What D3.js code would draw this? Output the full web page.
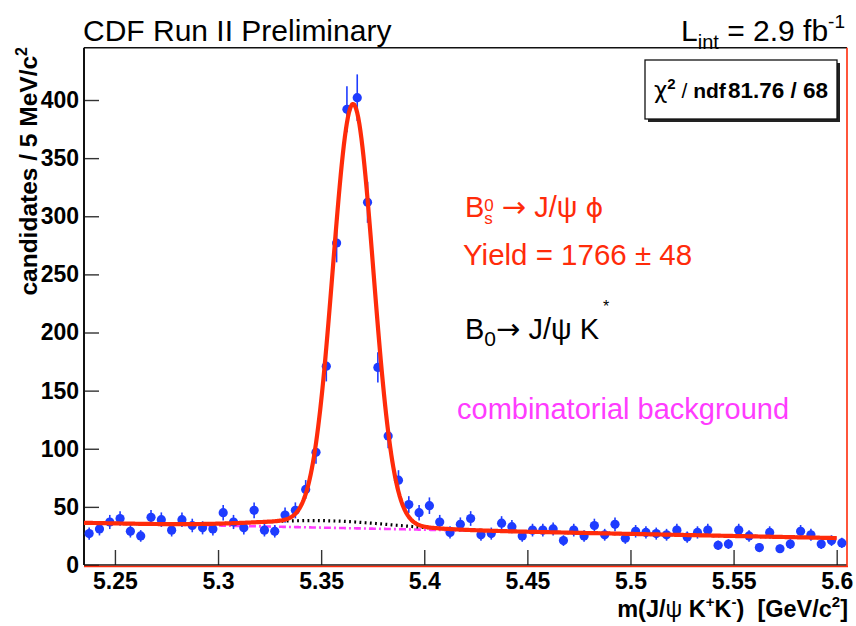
<!DOCTYPE html>
<html>
<head>
<meta charset="utf-8">
<script src="https://cdn.jsdelivr.net/npm/d3@7"></script>
<style>
  body { margin: 0; background: #fff; }
  svg { display: block; }
  text { font-family: "Liberation Sans", Arial, Helvetica, sans-serif; }
</style>
</head>
<body>
<svg id="chart" width="856" height="626"></svg>
<script>
// Histogram: 5 MeV/c^2 bins starting at 5.235 GeV/c^2
const binLow = 5.235;
const binWidth = 0.005;
const counts = [27,31,37,40,29,25,41,39,30,39,
                34,32,31,45,37,32,47,30,29,43,
                47,65,97,171,277,392,402,312,170,111,
                73,52,45,51,37,28,35,40,26,27,
                36,33,25,30,30,31,21,30,25,34,
                26,35,23,29,28,27,26,30,24,28,
                30,17,18,30,25,15,28,14,18,29,
                26,18,21,19];

const xMajorTicks = [5.25, 5.3, 5.35, 5.4, 5.45, 5.5, 5.55, 5.6];
const xTickLabels = ["5.25", "5.3", "5.35", "5.4", "5.45", "5.5", "5.55", "5.6"];
const yMajorTicks = [0, 50, 100, 150, 200, 250, 300, 350, 400];
const yTickLabels = ["0", "50", "100", "150", "200", "250", "300", "350", "400"];

// Fit results
const signalYield = 1766;
const signalYieldErr = 48;
const signalMean = 5.3655;
const signalSigma = 0.0098;
const combBackground = [36.3, -36];          // value at 5.235, slope per GeV/c^2
const reflectionShape = [6.0, 5.352, 0.032]; // B0 -> J/psi K* : amplitude, mean, width
const fitRange = [5.235, 5.6];
const chi2 = "81.76";
const ndf = "68";

const red = "#ff2b0a", blue = "#1e3cff", magenta = "#ff3cff";
const symbolFont = "'DejaVu Sans', sans-serif";

const svg = d3.select("#chart");
const W = 856, H = 626;
svg.append("rect").attr("width", W).attr("height", H).attr("fill", "#fff");

const x = d3.scaleLinear().domain([5.235, 5.605]).range([84, 847]);
const y = d3.scaleLinear().domain([0, 445]).range([565, 47.7]);

// fit model components
const comb = m => combBackground[0] + combBackground[1] * (m - binLow);
const refl = m => reflectionShape[0] * Math.exp(-0.5 * ((m - reflectionShape[1]) / reflectionShape[2]) ** 2);
const signal = m => signalYield * binWidth / (signalSigma * Math.sqrt(2 * Math.PI)) *
                    Math.exp(-0.5 * ((m - signalMean) / signalSigma) ** 2);
const grid = d3.range(fitRange[0], fitRange[1] + 1e-9, 0.0005);

const line = d3.line().x(d => x(d[0])).y(d => y(d[1]));

// axes (ticks pointing into the frame)
const gx = svg.append("g").attr("transform", `translate(0,${y(0)})`);
gx.call(d3.axisBottom(x).tickValues(d3.range(5.24, 5.6001, 0.01)).tickSize(-7).tickFormat(""));
gx.call(d3.axisBottom(x).tickValues(xMajorTicks).tickSize(-15).tickPadding(8)
          .tickFormat((d, i) => xTickLabels[i]));
gx.selectAll(".domain").remove();

const gy = svg.append("g").attr("transform", `translate(${x.range()[0]},0)`);
gy.call(d3.axisLeft(y).tickValues(d3.range(0, 441, 10)).tickSize(-8).tickFormat(""));
gy.call(d3.axisLeft(y).tickValues(yMajorTicks).tickSize(-15).tickPadding(5)
          .tickFormat((d, i) => yTickLabels[i]));
gy.selectAll(".domain").remove();

svg.selectAll(".tick line").attr("stroke", "#333").attr("stroke-width", 1.4);
svg.selectAll(".tick text").attr("fill", "#000").attr("font-size", 23).attr("font-weight", "bold")
   .attr("font-family", "'Liberation Sans', Arial, sans-serif");

// frame
const [fx0, fx1] = x.range();
const fy0 = y.range()[1], fy1 = y(0);
svg.append("line").attr("x1", fx0).attr("x2", fx1).attr("y1", fy0).attr("y2", fy0)
   .attr("stroke", "#111").attr("stroke-width", 1.6);
svg.append("line").attr("x1", fx0).attr("x2", fx0).attr("y1", fy0).attr("y2", fy1)
   .attr("stroke", "#111").attr("stroke-width", 2);
svg.append("line").attr("x1", fx0).attr("x2", fx1).attr("y1", fy1).attr("y2", fy1)
   .attr("stroke", "#111").attr("stroke-width", 1.6);
svg.append("line").attr("x1", fx0).attr("x2", fx1 + 1).attr("y1", fy1 + 1.5).attr("y2", fy1 + 1.5)
   .attr("stroke", red).attr("stroke-width", 1.4);
svg.append("line").attr("x1", fx1).attr("x2", fx1).attr("y1", fy0).attr("y2", fy1 + 2)
   .attr("stroke", red).attr("stroke-width", 1.6);

// background components
svg.append("path").datum(grid.map(m => [m, comb(m)]))
   .attr("d", line).attr("fill", "none").attr("stroke", magenta)
   .attr("stroke-width", 2.6).attr("stroke-dasharray", "7 3 2 3");
svg.append("path").datum(grid.map(m => [m, comb(m) + refl(m)]))
   .attr("d", line).attr("fill", "none").attr("stroke", "#000")
   .attr("stroke-width", 3.2).attr("stroke-dasharray", "1.8 3.4");

// data points with Poisson errors
const pts = counts.map((c, i) => ({ m: binLow + binWidth * (i + 0.5), n: c }));
const gp = svg.append("g");
gp.selectAll("line").data(pts).join("line")
  .attr("x1", d => x(d.m)).attr("x2", d => x(d.m))
  .attr("y1", d => y(d.n - Math.sqrt(d.n))).attr("y2", d => y(d.n + Math.sqrt(d.n)))
  .attr("stroke", blue).attr("stroke-width", 1.6);
gp.selectAll("circle").data(pts).join("circle")
  .attr("cx", d => x(d.m)).attr("cy", d => y(d.n)).attr("r", 4.6).attr("fill", blue);

// total fit
svg.append("path").datum(grid.map(m => [m, comb(m) + refl(m) + signal(m)]))
   .attr("d", line).attr("fill", "none").attr("stroke", red)
   .attr("stroke-width", 4.2).attr("stroke-linejoin", "round");

// titles
svg.append("text").attr("x", 83).attr("y", 41).attr("font-size", 30).text("CDF Run II Preliminary");

const lint = svg.append("text").attr("x", 845).attr("y", 41).attr("font-size", 30).attr("text-anchor", "end");
lint.append("tspan").text("L");
lint.append("tspan").attr("font-size", 20).attr("dy", 8).text("int");
lint.append("tspan").attr("dy", -8).text(" = 2.9 fb");
lint.append("tspan").attr("font-size", 19).attr("dy", -13).text("-1");

// axis titles
const xt = svg.append("text").attr("x", 848).attr("y", 617).attr("font-size", 23.5)
  .attr("font-weight", "bold").attr("text-anchor", "end");
xt.append("tspan").text("m(J/");
xt.append("tspan").attr("font-weight", "normal").text("ψ");
xt.append("tspan").text(" K");
xt.append("tspan").attr("font-size", 15).attr("dy", -10).text("+");
xt.append("tspan").attr("dy", 10).text("K");
xt.append("tspan").attr("font-size", 15).attr("dy", -10).text("-");
xt.append("tspan").attr("dy", 10).text(")");
xt.append("tspan").attr("dx", 13).text("[GeV/c");
xt.append("tspan").attr("font-size", 15).attr("dy", -10).text("2");
xt.append("tspan").attr("dy", 10).text("]");

const yt = svg.append("text").attr("transform", "translate(37,47) rotate(-90)")
  .attr("font-size", 24.5).attr("font-weight", "bold").attr("text-anchor", "end");
yt.append("tspan").text("candidates / 5 MeV/c");
yt.append("tspan").attr("font-size", 16).attr("dy", -10).text("2");

// fit quality box
svg.append("rect").attr("x", 648).attr("y", 63).attr("width", 192).attr("height", 59).attr("fill", "#222");
svg.append("rect").attr("x", 645).attr("y", 60).attr("width", 192).attr("height", 59)
   .attr("fill", "#fff").attr("stroke", "#111").attr("stroke-width", 1.3);
const cb = svg.append("text").attr("x", 654).attr("y", 98).attr("font-size", 23);
cb.append("tspan").attr("font-family", symbolFont).text("χ");
cb.append("tspan").attr("font-size", 15).attr("dy", -9).attr("font-weight", "bold").text("2");
cb.append("tspan").attr("dy", 9).attr("font-size", 21).text(" / ");
cb.append("tspan").attr("font-size", 21).attr("font-weight", "bold").text("ndf");
svg.append("text").attr("x", 828).attr("y", 98).attr("font-size", 22.5).attr("font-weight", "bold")
   .attr("text-anchor", "end").text(`${chi2} / ${ndf}`);

// legend labels
const l1 = svg.append("text").attr("x", 465).attr("y", 217).attr("font-size", 29).attr("fill", red);
l1.append("tspan").text("B");
l1.append("tspan").attr("font-size", 17).attr("dy", -6).text("0");
l1.append("tspan").attr("font-size", 17).attr("dx", -9.5).attr("dy", 13).text("s");
l1.append("tspan").attr("dy", -7).attr("dx", 9).attr("font-family", symbolFont).text("→");
l1.append("tspan").text(" J/ψ ");
l1.append("tspan").attr("font-family", symbolFont).attr("font-size", 27).text("ϕ");

svg.append("text").attr("x", 463).attr("y", 265).attr("font-size", 29.5).attr("fill", red)
   .text(`Yield = ${signalYield} ± ${signalYieldErr}`);

const l3 = svg.append("text").attr("x", 465).attr("y", 339).attr("font-size", 29).attr("fill", "#000");
l3.append("tspan").text("B");
l3.append("tspan").attr("font-size", 21).attr("dy", 7).text("0");
l3.append("tspan").attr("dy", -7).attr("font-family", symbolFont).text("→");
l3.append("tspan").text(" J/ψ K");
l3.append("tspan").attr("font-size", 16).attr("dx", 4).attr("dy", -27).text("*");

svg.append("text").attr("x", 457).attr("y", 419).attr("font-size", 29).attr("fill", magenta)
   .text("combinatorial background");
</script>
</body>
</html>
